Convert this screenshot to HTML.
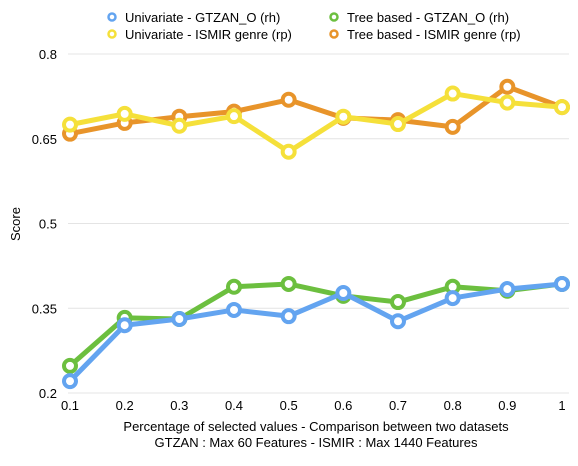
<!DOCTYPE html>
<html><head><meta charset="utf-8"><style>
body{margin:0;background:#fff;font-family:"Liberation Sans",sans-serif;}
svg text{font-family:"Liberation Sans",sans-serif;}
</style></head><body>
<svg id="chart" width="578" height="461" xmlns="http://www.w3.org/2000/svg">
<g id="grid"></g>
<g id="series"></g>
<g id="legend"></g>
<text x="20" y="224" font-size="13" text-anchor="middle" transform="rotate(-90 20 224)">Score</text>
<text x="316" y="431" font-size="13" text-anchor="middle">Percentage of selected values - Comparison between two datasets</text>
<text x="316" y="447" font-size="13" text-anchor="middle">GTZAN : Max 60 Features - ISMIR : Max 1440 Features</text>
</svg>
<script>
const categories=[0.1,0.2,0.3,0.4,0.5,0.6,0.7,0.8,0.9,1];
const xTickLabels=["0.1","0.2","0.3","0.4","0.5","0.6","0.7","0.8","0.9","1"];
const yTicks=[0.2,0.35,0.5,0.65,0.8];
const yTickLabels=["0.2","0.35","0.5","0.65","0.8"];
const uniGtzan=[0.221,0.32,0.331,0.347,0.336,0.377,0.327,0.368,0.384,0.393];
const treeGtzan=[0.248,0.333,0.331,0.388,0.393,0.372,0.361,0.388,0.381,0.393];
const uniIsmir=[0.675,0.694,0.673,0.69,0.627,0.689,0.676,0.73,0.714,0.706];
const treeIsmir=[0.659,0.678,0.689,0.698,0.719,0.687,0.683,0.671,0.742,0.706];
const seriesNames=["Univariate - GTZAN_O (rh)","Tree based - GTZAN_O (rh)","Univariate - ISMIR genre (rp)","Tree based - ISMIR genre (rp)"];
const NS="http://www.w3.org/2000/svg";
const X=v=>70+(v-0.1)/0.9*492;
const Y=v=>393-(v-0.2)/0.6*339;
function mk(t,a,p){const e=document.createElementNS(NS,t);for(const k in a)e.setAttribute(k,a[k]);p.appendChild(e);return e;}
const grid=document.getElementById('grid');
yTicks.forEach((t,i)=>{
 const l=mk('line',{x1:68,x2:569,y1:Y(t),y2:Y(t),stroke:'#e4e4e4','stroke-width':1},grid);
 
 
 const tx=mk('text',{x:57,y:Y(t)+5,'font-size':13,'text-anchor':'end'},grid);
 tx.textContent=yTickLabels[i];
 
 
});
categories.forEach((c,i)=>{
 const tx=mk('text',{x:X(c),y:410,'font-size':13,'text-anchor':'middle'},grid);
 tx.textContent=xTickLabels[i];
 
 
});
const sg=document.getElementById('series');
const defs=[[treeGtzan,'#6cbf3f','tree-gtzan'],[uniGtzan,'#63a4f0','univariate-gtzan'],[treeIsmir,'#e8942a','tree-ismir'],[uniIsmir,'#f5e03a','univariate-ismir']];
defs.forEach(([vals,col,name])=>{
 const g=mk('g',{},sg);
 
 
 const p=mk('polyline',{points:vals.map((v,i)=>X(categories[i])+','+Y(v)).join(' '),fill:'none',stroke:col,'stroke-width':5,'stroke-linejoin':'round'},g);
 
 
 vals.forEach((v,i)=>{
  const c=mk('circle',{cx:X(categories[i]),cy:Y(v),r:6,fill:'#fff',stroke:col,'stroke-width':4},g);
  
  
 });
});
const lg=document.getElementById('legend');
const lcol=['#63a4f0','#6cbf3f','#f5e03a','#e8942a'];
const lpos=[[112,17],[334,17],[112,34],[334,34]];
seriesNames.forEach((n,i)=>{
 const g=mk('g',{},lg);
 
 
 mk('circle',{cx:lpos[i][0],cy:lpos[i][1],r:3.5,fill:'#fff',stroke:lcol[i],'stroke-width':2.5},g);
 const t=mk('text',{x:lpos[i][0]+13,y:lpos[i][1]+5,'font-size':13},g);
 t.textContent=n;
});
</script>
</body></html>
